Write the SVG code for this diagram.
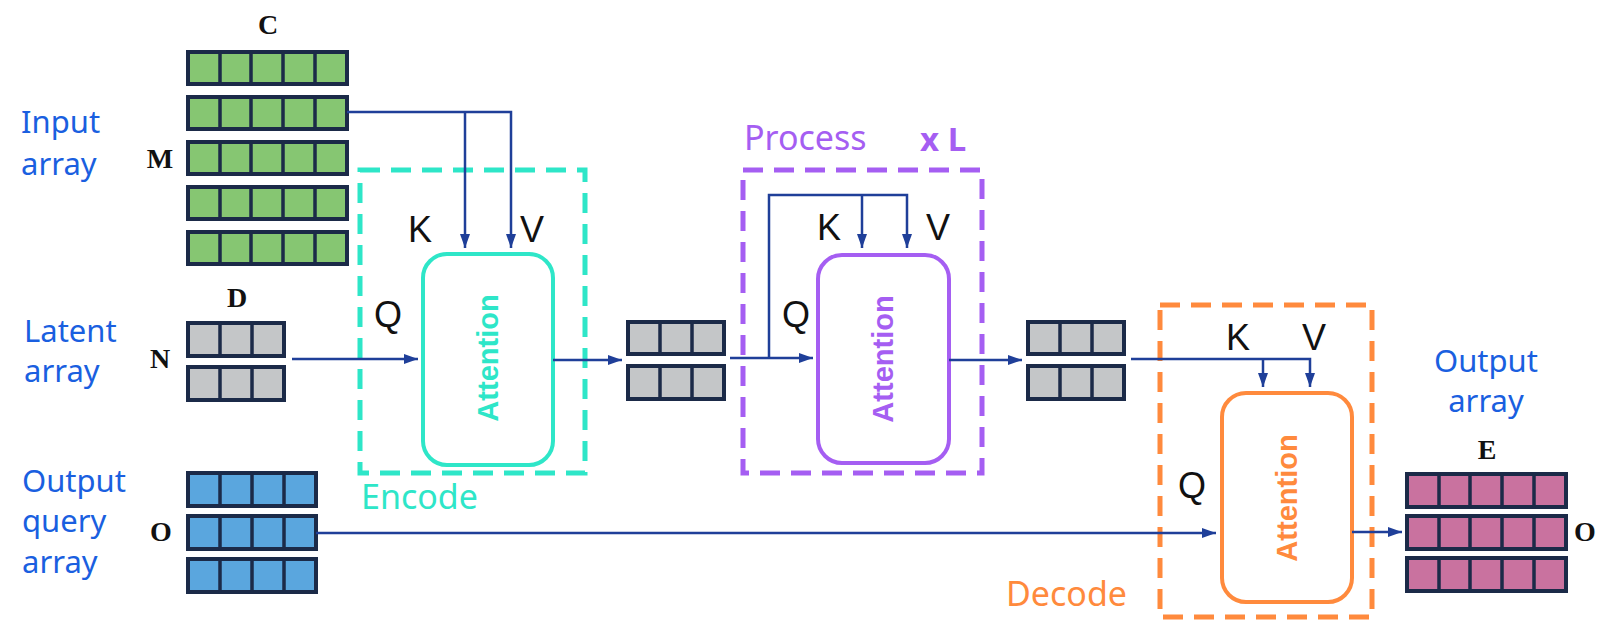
<svg xmlns="http://www.w3.org/2000/svg" width="1604" height="627" viewBox="0 0 1604 627">
<defs>
<style>
.lbl{font-family:"Noto Sans","Liberation Sans",sans-serif;font-size:31px;fill:#1a5fe0}
.grp{font-family:"Noto Sans","Liberation Sans",sans-serif;font-size:34px}
.dim{font-family:"Liberation Serif",serif;font-weight:bold;font-size:28px;fill:#111}
.kqv{font-family:"Liberation Sans",Arial,sans-serif;font-size:36px;fill:#111}
.att{font-family:"Liberation Sans",Arial,sans-serif;font-weight:bold;font-size:29px}
.cell{stroke:#1b2a48;stroke-width:4}
.grid{stroke:#1b2a48;stroke-width:3.5}
.conn{fill:none;stroke:#1f3f99;stroke-width:2.5}
.dash{fill:none;stroke-width:5;stroke-dasharray:20 11}
</style>
<marker id="ah" viewBox="0 0 14 10" refX="14" refY="5" markerWidth="14" markerHeight="10" markerUnits="userSpaceOnUse" orient="auto">
<path d="M0,0 L14,5 L0,10 Z" fill="#1f3f99"/>
</marker>
</defs>
<rect width="1604" height="627" fill="#fff"/>

<!-- Input array -->
<g id="input-array">
<text class="lbl" x="21" y="133">Input</text>
<text class="lbl" x="21" y="175">array</text>
<text class="dim" x="268" y="34" text-anchor="middle">C</text>
<text class="dim" x="160" y="168" text-anchor="middle">M</text>
<g fill="#86c672">
<rect class="cell" x="188" y="52" width="159" height="32"/>
<rect class="cell" x="188" y="97" width="159" height="32"/>
<rect class="cell" x="188" y="142" width="159" height="32"/>
<rect class="cell" x="188" y="187" width="159" height="32"/>
<rect class="cell" x="188" y="232" width="159" height="32"/>
</g>
<path class="grid" d="M220,52V84M251,52V84M283,52V84M315,52V84 M220,97V129M251,97V129M283,97V129M315,97V129 M220,142V174M251,142V174M283,142V174M315,142V174 M220,187V219M251,187V219M283,187V219M315,187V219 M220,232V264M251,232V264M283,232V264M315,232V264"/>
</g>

<!-- Latent array -->
<g id="latent-array">
<text class="lbl" x="24" y="342">Latent</text>
<text class="lbl" x="24" y="382">array</text>
<text class="dim" x="237" y="307" text-anchor="middle">D</text>
<text class="dim" x="160" y="368" text-anchor="middle">N</text>
<g fill="#c4c6c8">
<rect class="cell" x="188" y="323" width="96" height="33"/>
<rect class="cell" x="188" y="367" width="96" height="33"/>
</g>
<path class="grid" d="M220,323V356M252,323V356M220,367V400M252,367V400"/>
</g>

<!-- Output query array -->
<g id="output-query-array">
<text class="lbl" x="22" y="492">Output</text>
<text class="lbl" x="22" y="532">query</text>
<text class="lbl" x="22" y="573">array</text>
<text class="dim" x="161" y="541" text-anchor="middle">O</text>
<g fill="#5aa6de">
<rect class="cell" x="188" y="473" width="128" height="33"/>
<rect class="cell" x="188" y="516" width="128" height="33"/>
<rect class="cell" x="188" y="559" width="128" height="33"/>
</g>
<path class="grid" d="M220,473V506M252,473V506M284,473V506 M220,516V549M252,516V549M284,516V549 M220,559V592M252,559V592M284,559V592"/>
</g>

<!-- Encode -->
<g id="encode">
<rect class="dash" x="360" y="170" width="225" height="303" stroke="#2ee6c8"/>
<text class="grp" x="361" y="509" fill="#2ee6c8">Encode</text>
<rect x="423" y="254" width="130" height="211" rx="24" fill="none" stroke="#2ee6c8" stroke-width="4"/>
<text class="att" fill="#2ee6c8" transform="translate(498,358) rotate(-90)" text-anchor="middle">Attention</text>
<text class="kqv" x="408" y="242">K</text>
<text class="kqv" x="520" y="242">V</text>
<text class="kqv" x="374" y="327">Q</text>
</g>

<!-- Latent 1 -->
<g id="latent-1">
<g fill="#c4c6c8">
<rect class="cell" x="628" y="322" width="96" height="32"/>
<rect class="cell" x="628" y="366" width="96" height="33"/>
</g>
<path class="grid" d="M660,322V354M692,322V354M660,366V399M692,366V399"/>
</g>

<!-- Process -->
<g id="process">
<rect class="dash" x="743" y="170" width="239" height="303" stroke="#a55ef2"/>
<text class="grp" x="744" y="150" fill="#a55ef2">Process</text>
<text x="920" y="151" font-family="Noto Sans,Liberation Sans,sans-serif" font-size="33" font-weight="bold" fill="#a55ef2">x L</text>
<rect x="818" y="255" width="131" height="208" rx="24" fill="none" stroke="#a55ef2" stroke-width="4"/>
<text class="att" fill="#a55ef2" transform="translate(893,359) rotate(-90)" text-anchor="middle">Attention</text>
<text class="kqv" x="817" y="240">K</text>
<text class="kqv" x="926" y="240">V</text>
<text class="kqv" x="782" y="327">Q</text>
</g>

<!-- Latent 2 -->
<g id="latent-2">
<g fill="#c4c6c8">
<rect class="cell" x="1028" y="322" width="96" height="32"/>
<rect class="cell" x="1028" y="366" width="96" height="33"/>
</g>
<path class="grid" d="M1060,322V354M1092,322V354M1060,366V399M1092,366V399"/>
</g>

<!-- Decode -->
<g id="decode">
<rect class="dash" x="1160" y="305" width="212" height="312" stroke="#ff8a3d"/>
<text class="grp" x="1006" y="606" fill="#ff8a3d">Decode</text>
<rect x="1222" y="393" width="130" height="209" rx="24" fill="none" stroke="#ff8a3d" stroke-width="4"/>
<text class="att" fill="#ff8a3d" transform="translate(1297,498) rotate(-90)" text-anchor="middle">Attention</text>
<text class="kqv" x="1226" y="350">K</text>
<text class="kqv" x="1302" y="350">V</text>
<text class="kqv" x="1178" y="498">Q</text>
</g>

<!-- Output array -->
<g id="output-array">
<text class="lbl" x="1486" y="372" text-anchor="middle">Output</text>
<text class="lbl" x="1486" y="412" text-anchor="middle">array</text>
<text class="dim" x="1487" y="459" text-anchor="middle">E</text>
<text class="dim" x="1585" y="541" text-anchor="middle">O</text>
<g fill="#c9729f">
<rect class="cell" x="1407" y="474" width="159" height="33"/>
<rect class="cell" x="1407" y="516" width="159" height="33"/>
<rect class="cell" x="1407" y="558" width="159" height="33"/>
</g>
<path class="grid" d="M1439,474V507M1470,474V507M1502,474V507M1534,474V507 M1439,516V549M1470,516V549M1502,516V549M1534,516V549 M1439,558V591M1470,558V591M1502,558V591M1534,558V591"/>
</g>

<!-- Connectors -->
<g id="connectors">
<path class="conn" d="M347,112H511V248" marker-end="url(#ah)"/>
<path class="conn" d="M465,112V248" marker-end="url(#ah)"/>
<path class="conn" d="M292,359H418" marker-end="url(#ah)"/>
<path class="conn" d="M553,360H622" marker-end="url(#ah)"/>
<path class="conn" d="M730,358H813" marker-end="url(#ah)"/>
<path class="conn" d="M769,358V195H907V248" marker-end="url(#ah)"/>
<path class="conn" d="M862,195V248" marker-end="url(#ah)"/>
<path class="conn" d="M949,360H1022" marker-end="url(#ah)"/>
<path class="conn" d="M1131,359H1310V387" marker-end="url(#ah)"/>
<path class="conn" d="M1263,359V387" marker-end="url(#ah)"/>
<path class="conn" d="M316,533H1216" marker-end="url(#ah)"/>
<path class="conn" d="M1352,532H1402" marker-end="url(#ah)"/>
</g>
</svg>
